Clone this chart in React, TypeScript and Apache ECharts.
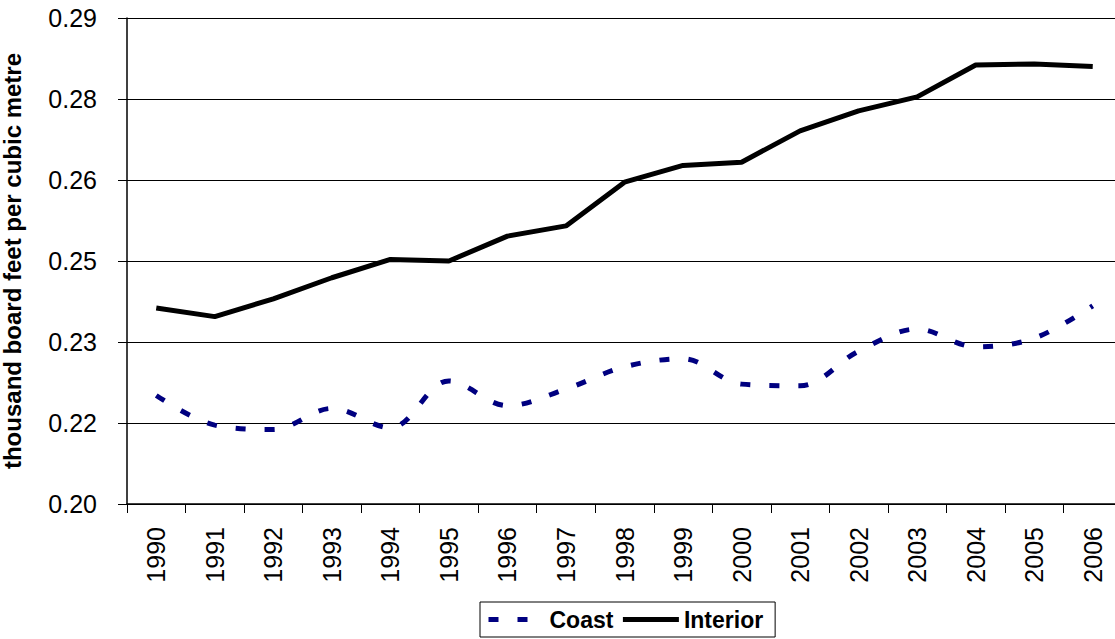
import React, { useEffect, useRef } from "react";
import * as echarts from "echarts";

const years = ["1990", "1991", "1992", "1993", "1994", "1995", "1996", "1997", "1998", "1999", "2000", "2001", "2002", "2003", "2004", "2005", "2006"];
const coast = [0.2201, 0.2146, 0.2138, 0.2177, 0.2141, 0.2228, 0.2182, 0.2213, 0.2254, 0.2269, 0.2222, 0.2219, 0.2283, 0.2324, 0.2291, 0.2307, 0.2367];
const interior = [0.2363, 0.2347, 0.238, 0.2419, 0.2453, 0.245, 0.2496, 0.2515, 0.2596, 0.2627, 0.2633, 0.2691, 0.2728, 0.2754, 0.2813, 0.2815, 0.281];
const yMin = 0.2;
const yMax = 0.29;
const yStep = 0.015;
const yTitle = "thousand board feet per cubic metre";

const FONT = "'Liberation Sans', Arial, sans-serif";

export default function App() {
  const ref = useRef<HTMLDivElement>(null);
  useEffect(() => {
    if (!ref.current) return;
    const chart = echarts.init(ref.current, null, { renderer: "svg" });
    chart.setOption({
      animation: false,
      backgroundColor: "#fff",
      textStyle: { fontFamily: FONT },
      grid: { left: 127, top: 18, right: -7, bottom: 135, containLabel: false, outerBoundsMode: "none" },
      legend: {
        left: 480,
        top: 602,
        orient: "horizontal",
        padding: [6, 12, 6, 6],
        itemGap: 7,
        itemWidth: 56,
        itemHeight: 14,
        borderColor: "#000",
        borderWidth: 1,
        itemStyle: { opacity: 0 },
        lineStyle: { width: 5 },
        textStyle: { fontFamily: FONT, fontSize: 23, fontWeight: "bold", color: "#000" },
        data: ["Coast", "Interior"],
      },
      xAxis: {
        type: "category",
        data: years,
        boundaryGap: true,
        axisLine: { lineStyle: { color: "#000", width: 1.5 } },
        axisTick: { show: true, length: 9, lineStyle: { color: "#000", width: 1 } },
        axisLabel: { rotate: 90, margin: 23, fontSize: 25, color: "#000", fontFamily: FONT, interval: 0 },
        splitLine: { show: false },
      },
      yAxis: {
        type: "value",
        min: yMin,
        max: yMax,
        interval: yStep,
        name: yTitle,
        nameLocation: "middle",
        nameRotate: 90,
        nameGap: 103,
        nameTextStyle: { fontFamily: FONT, fontSize: 24, fontWeight: "bold", color: "#000" },
        axisLine: { show: true, lineStyle: { color: "#000", width: 1.5 } },
        axisTick: { show: true, length: 9, lineStyle: { color: "#000", width: 1 } },
        axisLabel: {
          margin: 30,
          fontSize: 25,
          color: "#000",
          fontFamily: FONT,
          formatter: (v: number) => (Math.round(v * 100 + 1e-6) / 100).toFixed(2),
        },
        splitLine: { show: true, lineStyle: { color: "#000", width: 1 } },
      },
      series: [
        {
          name: "Coast",
          type: "line",
          data: coast,
          smooth: 0.35,
          symbol: "none",
          lineStyle: { color: "#000080", width: 5, type: [10, 19] },
          itemStyle: { color: "#000080" },
        },
        {
          name: "Interior",
          type: "line",
          data: interior,
          smooth: false,
          symbol: "none",
          lineStyle: { color: "#000", width: 5, type: "solid" },
          itemStyle: { color: "#000" },
        },
      ],
    });
    return () => chart.dispose();
  }, []);
  return (
    <div
      ref={ref}
      style={{ position: "fixed", left: 0, top: 0, width: 1115, height: 639, background: "#fff" }}
    />
  );
}
